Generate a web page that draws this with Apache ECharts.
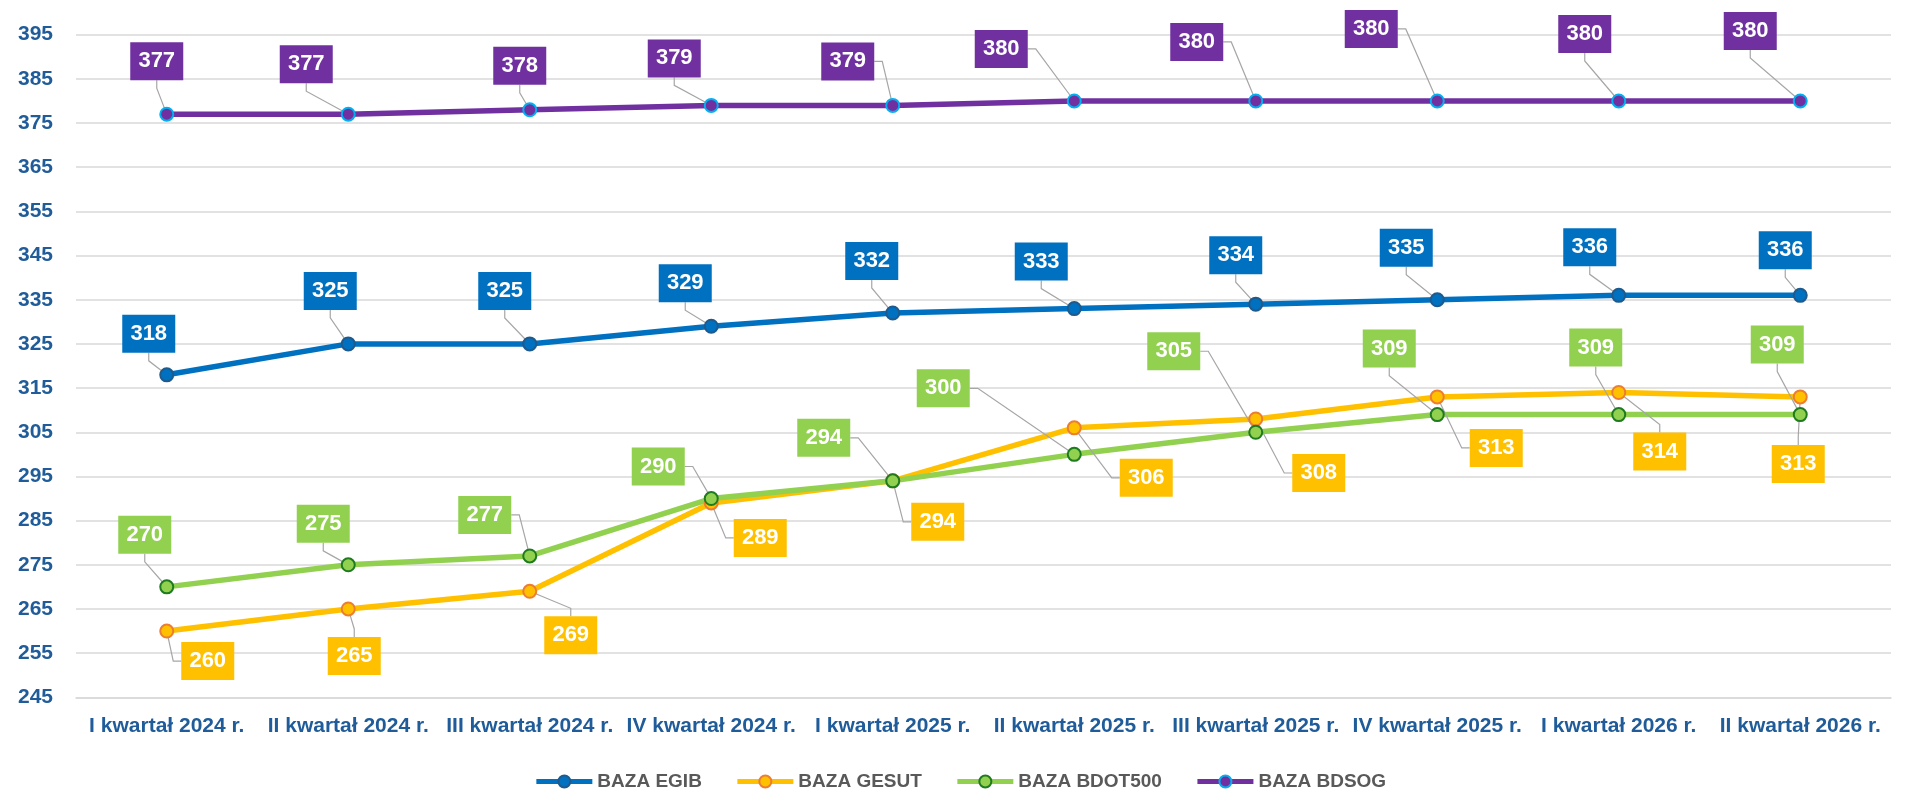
<!DOCTYPE html>
<html>
<head>
<meta charset="utf-8">
<script src="https://cdn.jsdelivr.net/npm/echarts@6/dist/echarts.min.js"></script>
<style>
html,body{margin:0;padding:0;background:#fff;}
#chart{width:1920px;height:810px;}
</style>
</head>
<body>
<div id="chart"></div>
<script>
const categories = ['I kwartał 2024 r.', 'II kwartał 2024 r.', 'III kwartał 2024 r.', 'IV kwartał 2024 r.', 'I kwartał 2025 r.', 'II kwartał 2025 r.', 'III kwartał 2025 r.', 'IV kwartał 2025 r.', 'I kwartał 2026 r.', 'II kwartał 2026 r.'];
const seriesNames = ['BAZA EGIB', 'BAZA GESUT', 'BAZA BDOT500', 'BAZA BDSOG'];
const egib = [318, 325, 325, 329, 332, 333, 334, 335, 336, 336];
const gesut = [260, 265, 269, 289, 294, 306, 308, 313, 314, 313];
const bdot500 = [270, 275, 277, 290, 294, 300, 305, 309, 309, 309];
const bdsog = [377, 377, 378, 379, 379, 380, 380, 380, 380, 380];
const yTicks = [245, 255, 265, 275, 285, 295, 305, 315, 325, 335, 345, 355, 365, 375, 385, 395];

// label callout offsets (layout only, px)
const offEgib = [[-18,-41],[-18,-53],[-25,-53],[-26,-43],[-21,-52],[-33,-47],[-20,-49],[-31,-52],[-29,-48],[-15,-45]];
const offGesut = [[41,30],[6,47],[41,44],[49,35],[45,41],[72,50],[63,54],[59,51],[41,59],[-2,67]];
const offBdot = [[-22,-52],[-25,-41],[-45,-41],[-53,-32],[-69,-43],[-131,-66],[-82,-81],[-48,-66],[-23,-67],[-23,-70]];
const offBdsog = [[-10,-53],[-42,-50],[-10,-44],[-37,-47],[-45,-44],[-73,-52],[-59,-59],[-66,-72],[-34,-67],[-50,-70]];

const FONT = 'Liberation Sans';
const chart = echarts.init(document.getElementById('chart'));

function mkSeries(name, data, color, border, offs) {
  return {
    name: name,
    type: 'line',
    data: data,
    symbol: 'circle',
    symbolSize: 13,
    lineStyle: { color: color, width: 5.5 },
    itemStyle: { color: color, borderColor: border, borderWidth: 2 },
    label: {
      show: true,
      position: 'inside',
      backgroundColor: color,
      color: '#ffffff',
      fontFamily: FONT,
      fontWeight: 'bold',
      fontSize: 22,
      width: 53,
      height: 38,
      lineHeight: 38,
      align: 'center',
      verticalAlign: 'middle'
    },
    labelLine: {
      show: true,
      length2: 8,
      lineStyle: { color: '#A6A6A6', width: 1.2 }
    },
    labelLayout: function (p) {
      const o = offs[p.dataIndex];
      return { dx: o[0], dy: o[1] };
    },
    emphasis: { disabled: true },
    animation: false
  };
}

chart.setOption({
  backgroundColor: '#ffffff',
  animation: false,
  grid: { left: 76, right: 29, top: 34.7, bottom: 112.7, containLabel: false },
  legend: {
    data: seriesNames,
    bottom: 14,
    left: 'center',
    itemWidth: 56,
    itemHeight: 15,
    itemGap: 33,
    lineStyle: { width: 5 },
    textStyle: { color: '#595959', fontFamily: FONT, fontWeight: 'bold', fontSize: 19 }
  },
  xAxis: {
    type: 'category',
    data: categories,
    boundaryGap: true,
    axisLine: { show: true, lineStyle: { color: '#D9D9D9', width: 1.5 } },
    axisTick: { show: false },
    axisLabel: { color: '#1F5C99', fontFamily: FONT, fontWeight: 'bold', fontSize: 21, margin: 18, interval: 0 }
  },
  yAxis: {
    type: 'value',
    min: 245,
    max: 395,
    axisLine: { show: false },
    axisTick: { show: false, customValues: yTicks },
    axisLabel: { color: '#1F5C99', fontFamily: FONT, fontWeight: 'bold', fontSize: 21, margin: 23, customValues: yTicks },
    splitLine: { show: true, lineStyle: { color: '#D9D9D9', width: 1.5 } }
  },
  series: [
    mkSeries(seriesNames[0], egib, '#0070C0', '#1F5A8C', offEgib),
    mkSeries(seriesNames[1], gesut, '#FFC000', '#ED7D31', offGesut),
    mkSeries(seriesNames[2], bdot500, '#92D050', '#1E7B1E', offBdot),
    mkSeries(seriesNames[3], bdsog, '#7030A0', '#00B0F0', offBdsog)
  ]
});
</script>
</body>
</html>
